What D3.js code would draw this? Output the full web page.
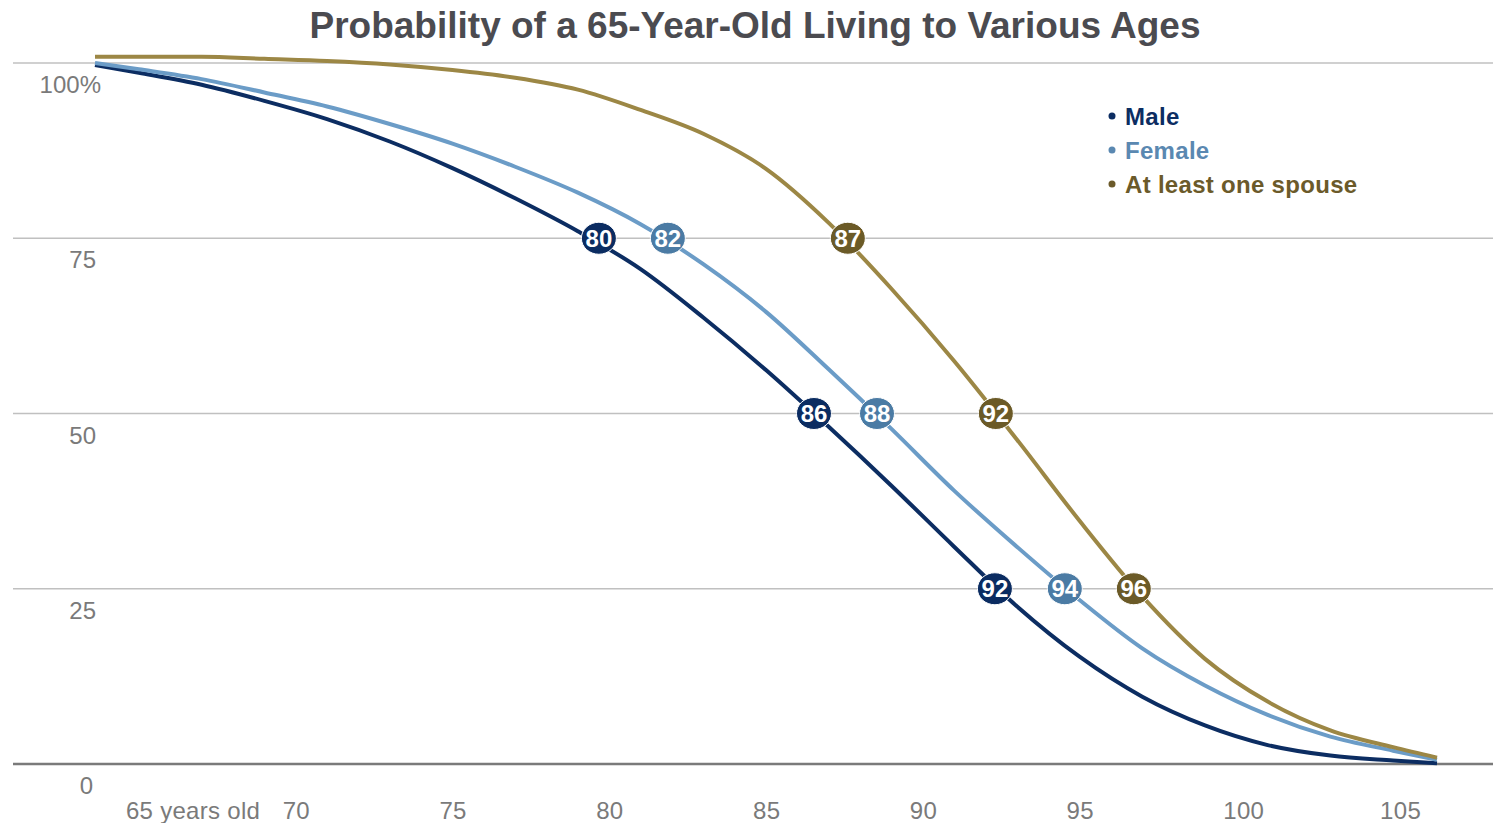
<!DOCTYPE html>
<html>
<head>
<meta charset="utf-8">
<script src="https://cdn.jsdelivr.net/npm/d3@7"></script>
<style>
	body { margin: 0; background: #fff; }
	svg { display: block; font-family: "Liberation Sans", Arial, sans-serif; }
</style>
</head>
<body>
<svg id="chart"></svg>
<script>
// data (age -> % still living)
var ages = [63.6, 65, 67, 69, 71, 73, 75, 77, 79, 81, 83, 85, 87, 89, 91, 93, 95, 97, 99, 101, 103, 105, 106.4];
var male = [99.7, 98.6, 96.9, 94.6, 92.0, 88.8, 85.0, 80.7, 76.0, 70.6, 63.7, 56.2, 48.1, 39.7, 31.0, 22.5, 15.3, 9.6, 5.5, 2.7, 1.2, 0.5, 0.1];
var female = [100, 99.1, 97.7, 95.8, 93.8, 91.3, 88.5, 85.2, 81.5, 77.0, 71.3, 64.5, 56.3, 47.8, 39.0, 31.0, 23.4, 16.5, 11.2, 7.0, 3.9, 1.9, 0.6];
var spouse = [100.9, 100.9, 100.9, 100.6, 100.3, 99.8, 99.0, 97.9, 96.2, 93.3, 89.9, 84.9, 77.2, 67.8, 57.5, 46.3, 34.7, 23.9, 15.0, 8.9, 4.8, 2.4, 0.9];

var seriesNames = ["Male", "Female", "At least one spouse"];
var lineColors = ["#0c2d62", "#6b9cc7", "#9c8745"];
var dotColors = ["#0b2c61", "#4b7ba4", "#6b5a27"];
var textColors = ["#0c2d62", "#5a88b1", "#6b5a2a"];

// labelled crossings of 75 / 50 / 25 %
var markerAges = [[79.67, 86.53, 92.3], [81.87, 88.54, 94.53], [87.61, 92.33, 96.73]];
var markerLabels = [["80", "86", "92"], ["82", "88", "94"], ["87", "92", "96"]];
var markerLevels = [75, 50, 25];

var yTicks = [0, 25, 50, 75, 100];
var yTickLabels = ["0", "25", "50", "75", "100%"];
var xTicks = [65, 70, 75, 80, 85, 90, 95, 100, 105];
var xTickLabels = ["65 years old", "70", "75", "80", "85", "90", "95", "100", "105"];

var W = 1493, H = 823;
var svg = d3.select("#chart").attr("width", W).attr("height", H);

var xscale = d3.scaleLinear().domain([63.6, 106.4]).range([95, 1437]);
var yscale = d3.scaleLinear().domain([0, 100]).range([764, 63]);

// title
svg.append("text")
	.attr("x", 755)
	.attr("y", 38)
	.attr("text-anchor", "middle")
	.attr("fill", "#4b4b50")
	.style("font-size", "37px")
	.style("font-weight", "bold")
	.text("Probability of a 65-Year-Old Living to Various Ages");

// grid
svg.append("g").selectAll("line.grid")
	.data(yTicks)
	.enter().append("line")
		.attr("x1", 13)
		.attr("x2", W)
		.attr("y1", function(d){ return yscale(d); })
		.attr("y2", function(d){ return yscale(d); })
		.attr("stroke", function(d){ return d == 0 ? "#7a7a7a" : "#c0c0c0"; })
		.attr("stroke-width", function(d){ return d == 0 ? 2.5 : 1.5; });

// y labels
svg.append("g").selectAll("text")
	.data(yTicks)
	.enter().append("text")
		.attr("x", function(d){ return d == 100 ? 101 : (d == 0 ? 93 : 96); })
		.attr("y", function(d){ return yscale(d) + 30; })
		.attr("text-anchor", "end")
		.attr("fill", "#7a7a7a")
		.style("font-size", "24px")
		.text(function(d, i){ return yTickLabels[i]; });

// x labels
svg.append("g").selectAll("text")
	.data(xTicks)
	.enter().append("text")
		.attr("x", function(d){ return xscale(d) - 13; })
		.attr("y", 819)
		.attr("fill", "#7a7a7a")
		.style("font-size", "24px")
		.style("letter-spacing", "0.3px")
		.text(function(d, i){ return xTickLabels[i]; });

// lines
var allSeries = [male, female, spouse];
var line = d3.line()
	.x(function(d, i){ return xscale(ages[i]); })
	.y(function(d){ return yscale(d); })
	.curve(d3.curveMonotoneX);

svg.append("g").selectAll("path")
	.data(allSeries)
	.enter().append("path")
		.attr("d", line)
		.attr("fill", "none")
		.attr("stroke", function(d, i){ return lineColors[i]; })
		.attr("stroke-width", 4)
		.attr("stroke-linejoin", "round");

// markers
var markers = [];
markerAges.forEach(function(arr, s){
	arr.forEach(function(a, j){
		markers.push({ s: s, age: a, level: markerLevels[j], label: markerLabels[s][j] });
	});
});

var mg = svg.append("g").selectAll("g")
	.data(markers)
	.enter().append("g")
		.attr("transform", function(d){ return "translate(" + xscale(d.age) + "," + yscale(d.level) + ")"; });

mg.append("ellipse")
	.attr("rx", 17.5)
	.attr("ry", 16)
	.attr("fill", function(d){ return dotColors[d.s]; })
	.attr("stroke", "#fff")
	.attr("stroke-width", 1);

mg.append("text")
	.attr("text-anchor", "middle")
	.attr("y", 8.5)
	.attr("fill", "#fff")
	.style("font-size", "24px")
	.style("font-weight", "bold")
	.text(function(d){ return d.label; });

// legend
var lg = svg.append("g").selectAll("g")
	.data(seriesNames)
	.enter().append("g")
		.attr("transform", function(d, i){ return "translate(1112," + (117 + i * 34) + ")"; });

lg.append("circle")
	.attr("r", 3.5)
	.attr("cy", -1)
	.attr("fill", function(d, i){ return textColors[i]; });

lg.append("text")
	.attr("x", 13)
	.attr("y", 8)
	.attr("fill", function(d, i){ return textColors[i]; })
	.style("font-size", "24px")
	.style("font-weight", "bold")
	.style("letter-spacing", "0.3px")
	.text(function(d){ return d; });
</script>
</body>
</html>
